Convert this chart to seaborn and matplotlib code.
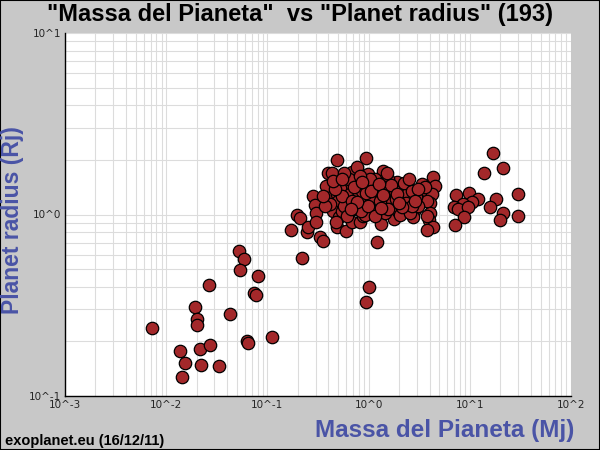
import matplotlib
matplotlib.use("Agg")
import matplotlib.pyplot as plt
import matplotlib.ticker as mticker
import seaborn as sns
import pandas as pd
import numpy as np

# Planet mass (Mj) and radius (Rj)
mass_low = [0.00724, 0.01368, 0.01535, 0.01432, 0.0216, 0.0221, 0.0271, 0.0333,
            0.0193, 0.0201, 0.0201, 0.0265, 0.0427, 0.0524, 0.0588, 0.0536,
            0.0807, 0.0738, 0.0771, 0.0628, 0.0643, 0.111]
radius_low = [0.237, 0.1767, 0.1517, 0.1271, 0.181, 0.148, 0.1905, 0.146,
              0.308, 0.265, 0.2455, 0.407, 0.282, 0.627, 0.566, 0.492,
              0.456, 0.368, 0.359, 0.2005, 0.1954, 0.211]

mass_mid = [0.171, 0.196, 0.210, 0.220, 0.246, 0.252, 0.2825, 0.295, 0.302, 0.302,
            0.331, 0.354,
            0.488, 0.942, 0.397, 0.434, 0.686, 0.767, 0.986, 1.387, 0.499, 0.397,
            0.488, 0.598, 0.735, 0.881, 1.081, 0.92, 1.009, 0.822, 0.612, 0.499,
            0.445, 0.558, 0.686, 0.511, 0.488, 0.598, 0.546, 0.625, 0.686, 0.822,
            0.881, 1.081, 1.21, 0.767, 0.964, 1.326, 1.782, 4.33, 4.53, 3.37,
            1.91, 2.39, 1.356, 1.105, 3.45, 4.23, 3.22, 4.04, 2.57, 2.04, 1.627,
            1.742, 2.19, 1.452, 1.824, 2.29, 2.87, 1.21, 1.157, 4.04, 3.95, 4.33,
            3.78, 2.81, 1.105, 3.78, 2.75, 1.009, 0.942]
radius_mid = [0.817, 1.0, 0.951, 0.573, 0.796, 0.849, 1.271, 1.135, 1.013, 0.904,
              0.748, 0.711,
              2.005, 2.056, 1.702, 1.702, 1.722, 1.835, 1.68, 1.745, 1.518, 1.304,
              1.304, 1.39, 1.39, 1.443, 1.443, 1.499, 1.271, 1.12, 1.208, 1.194,
              1.052, 1.052, 1.092, 0.963, 0.849, 0.807, 1.052, 1.025, 0.904, 0.904,
              0.987, 1.052, 0.702, 1.079, 1.079, 0.892, 0.939, 1.617, 1.443, 1.48,
              1.518, 1.443, 1.538, 1.443, 1.304, 1.304, 1.194, 1.164, 1.224, 1.39, 1.39,
              1.271, 1.24, 1.149, 1.12, 1.079, 1.079, 1.271, 1.12, 1.025, 0.927, 0.849,
              0.817, 1.052, 1.025, 1.194, 0.963, 0.397, 0.328]

mass_dense = [0.521, 0.655, 0.785, 0.901, 1.057, 1.239, 1.486, 1.703, 1.954, 2.45,
              2.94, 3.61, 0.572, 0.920, 1.452, 2.04, 2.57, 3.08, 0.379, 0.416,
              0.750, 0.861, 1.157, 1.556, 1.824, 2.24, 2.685, 3.08, 0.546, 0.686,
              0.841, 0.986, 1.297, 1.556, 1.866, 2.344, 2.685, 0.640, 0.572, 1.033,
              1.452, 1.157, 0.371, 0.466, 1.665, 2.138, 0.822, 0.445, 0.718, 0.942,
              1.326, 1.91, 0.612, 1.057, 1.52, 0.546, 1.267, 2.506, 2.87, 0.354,
              0.767, 1.995, 1.387, 0.670, 3.78, 0.476, 0.861]
radius_dense = [1.407, 1.304, 1.255, 1.194, 1.224, 1.355, 1.271, 1.179, 1.052, 1.32,
                1.255, 1.425, 1.12, 1.0, 1.025, 1.0, 1.025, 1.12, 1.443, 1.149,
                1.538, 1.355, 1.577, 1.577, 1.355, 1.499, 1.355, 1.39, 1.271, 1.194,
                1.052, 1.12, 1.194, 1.079, 1.224, 1.164, 1.12, 1.577, 1.702, 1.577,
                1.425, 0.987, 1.12, 1.39, 1.462, 1.106, 1.637, 1.538, 1.425, 1.32,
                1.092, 1.304, 0.987, 1.355, 1.702, 1.577, 1.48, 1.577, 1.194, 1.271,
                1.179, 1.164, 1.288, 1.079, 0.987, 0.904, 1.518]

mass_high = [16.9, 21.3, 13.8, 7.31, 9.82, 12.05, 10.5, 8.57, 6.98, 7.64, 9.6,
             8.77, 7.14, 18.2, 15.8, 21.3, 19.9, 29.9, 29.9]
radius_high = [2.19, 1.81, 1.702, 1.288, 1.32, 1.224, 1.179, 1.149, 1.106, 1.079,
               1.106, 0.963, 0.87, 1.224, 1.106, 1.013, 0.927, 1.304, 0.975]

xticks = [1e-3, 1e-2, 1e-1, 1e0, 1e1, 1e2]
xtick_labels = ["10^-3", "10^-2", "10^-1", "10^0", "10^1", "10^2"]
yticks = [1e-1, 1e0, 1e1]
ytick_labels = ["10^-1", "10^0", "10^1"]

mass = mass_low + mass_mid + mass_dense + mass_high
radius = radius_low + radius_mid + radius_dense + radius_high
df = pd.DataFrame({"mass": mass, "radius": radius})

sns.set_style("white")
plt.rcParams["font.family"] = ["Liberation Sans", "DejaVu Sans"]

fig = plt.figure(figsize=(6, 4.5), dpi=100)
fig.patch.set_facecolor("#c8c8c8")
ax = fig.add_axes([65/600, 54/450, 506/600, 363/450])
ax.set_facecolor("white")

ax.set_xscale("log")
ax.set_yscale("log")
ax.set_xlim(1e-3, 1e2)
ax.set_ylim(1e-1, 1e1)

ax.xaxis.set_major_locator(mticker.FixedLocator(xticks))
ax.yaxis.set_major_locator(mticker.FixedLocator(yticks))
ax.xaxis.set_minor_locator(mticker.LogLocator(base=10, subs=np.arange(2, 10)))
ax.yaxis.set_minor_locator(mticker.LogLocator(base=10, subs=np.arange(2, 10)))
ax.set_xticklabels(xtick_labels, fontsize=7.5, family="DejaVu Sans")
ax.set_yticklabels(ytick_labels, fontsize=7.5, family="DejaVu Sans")
ax.xaxis.set_minor_formatter(mticker.NullFormatter())
ax.yaxis.set_minor_formatter(mticker.NullFormatter())

ax.grid(True, which="both", color="#dcdcdc", linewidth=0.8)
ax.set_axisbelow(True)
ax.tick_params(which="both", direction="in", color="black", width=0.8)
ax.tick_params(which="major", length=4, pad=3)
ax.tick_params(which="minor", length=3)

for s in ["top", "right"]:
    ax.spines[s].set_visible(False)
for s in ["left", "bottom"]:
    ax.spines[s].set_color("black")
    ax.spines[s].set_linewidth(1.0)

sns.scatterplot(data=df, x="mass", y="radius", ax=ax, s=80, color="#a3282a",
                edgecolor="black", linewidth=0.9, zorder=3, clip_on=False)
ax.set_xlabel("")
ax.set_ylabel("")

fig.text(0.5, 1 - 15/450, '"Massa del Pianeta"  vs "Planet radius" (%d)' % 193,
         ha="center", va="center", fontsize=17, fontweight="bold", color="black")
fig.text(13/600, 1 - 220/450, "Planet radius (Rj)", rotation=90, ha="center",
         va="center", fontsize=16.5, fontweight="bold", color="#4a54a6")
fig.text(574/600, 1 - 431/450, "Massa del Pianeta (Mj)", ha="right", va="center",
         fontsize=17.5, fontweight="bold", color="#4a54a6")
fig.text(5/600, 1 - 441/450, "exoplanet.eu (16/12/11)", ha="left", va="center",
         fontsize=10.5, fontweight="bold", color="black")

border = plt.Rectangle((0, 0), 1, 1, transform=fig.transFigure, fill=False,
                       edgecolor="black", linewidth=1.5)
fig.patches.append(border)

fig.savefig("out.png", dpi=100, facecolor=fig.get_facecolor())
